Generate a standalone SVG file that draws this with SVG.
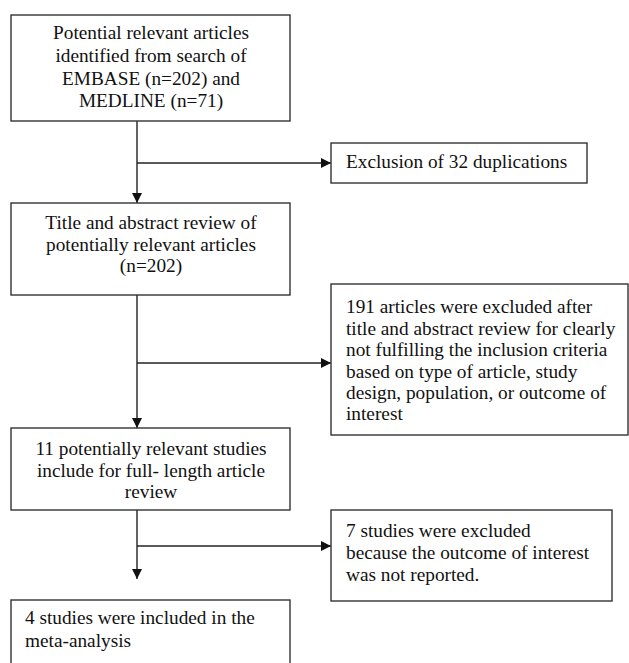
<svg xmlns="http://www.w3.org/2000/svg" width="629" height="663" viewBox="0 0 629 663">
<style>
.box{fill:#fff;stroke:#333;stroke-width:1.4}
.t{font-family:'Liberation Serif','Times New Roman',serif;font-size:19.3px;fill:#111}
.c{text-anchor:middle}
.ln{stroke:#222;stroke-width:1.4;fill:none;marker-end:url(#ah)}
</style>
<defs>
<marker id="ah" viewBox="0 0 10 10" refX="10" refY="5" markerWidth="10" markerHeight="11" markerUnits="userSpaceOnUse" orient="auto">
<path d="M0,0 L10,5 L0,10 z" fill="#111"/>
</marker>
</defs>
<rect width="629" height="663" fill="#fff"/>
<g id="connectors">
<line class="ln" x1="137" y1="121" x2="137" y2="203"/>
<line class="ln" x1="137" y1="163" x2="331" y2="163"/>
<line class="ln" x1="137" y1="295" x2="137" y2="428"/>
<line class="ln" x1="137" y1="363" x2="331" y2="363"/>
<line class="ln" x1="137" y1="510" x2="137" y2="579"/>
<line class="ln" x1="137" y1="546" x2="331" y2="546"/>
</g>
<g id="n1" font-family="Liberation Serif, serif">
<rect class="box" x="11" y="15" width="279" height="106"/>
<text class="t c" x="151" y="39">Potential relevant articles</text>
<text class="t c" x="151" y="62">identified from search of</text>
<text class="t c" x="151" y="85">EMBASE (n=202) and</text>
<text class="t c" x="151" y="107">MEDLINE (n=71)</text>
</g>
<g id="n2">
<rect class="box" x="331" y="143" width="256" height="40"/>
<text class="t" x="346" y="168">Exclusion of 32 duplications</text>
</g>
<g id="n3">
<rect class="box" x="11" y="203" width="279" height="92"/>
<text class="t c" x="151" y="229">Title and abstract review of</text>
<text class="t c" x="151" y="251">potentially relevant articles</text>
<text class="t c" x="151" y="272">(n=202)</text>
</g>
<g id="n4">
<rect class="box" x="331" y="284" width="297" height="151"/>
<text class="t" x="346" y="313">191 articles were excluded after</text>
<text class="t" x="346" y="335">title and abstract review for clearly</text>
<text class="t" x="346" y="356">not fulfilling the inclusion criteria</text>
<text class="t" x="346" y="378">based on type of article, study</text>
<text class="t" x="346" y="399">design, population, or outcome of</text>
<text class="t" x="346" y="420">interest</text>
</g>
<g id="n5">
<rect class="box" x="11" y="428" width="279" height="82"/>
<text class="t c" x="151" y="455">11 potentially relevant studies</text>
<text class="t c" x="151" y="477">include for full- length article</text>
<text class="t c" x="151" y="498">review</text>
</g>
<g id="n6">
<rect class="box" x="331" y="510" width="281" height="91"/>
<text class="t" x="346" y="537">7 studies were excluded</text>
<text class="t" x="346" y="559">because the outcome of interest</text>
<text class="t" x="346" y="581">was not reported.</text>
</g>
<g id="n7">
<rect class="box" x="11" y="600" width="279" height="80"/>
<text class="t" x="25" y="624">4 studies were included in the</text>
<text class="t" x="25" y="647">meta-analysis</text>
</g>
</svg>
